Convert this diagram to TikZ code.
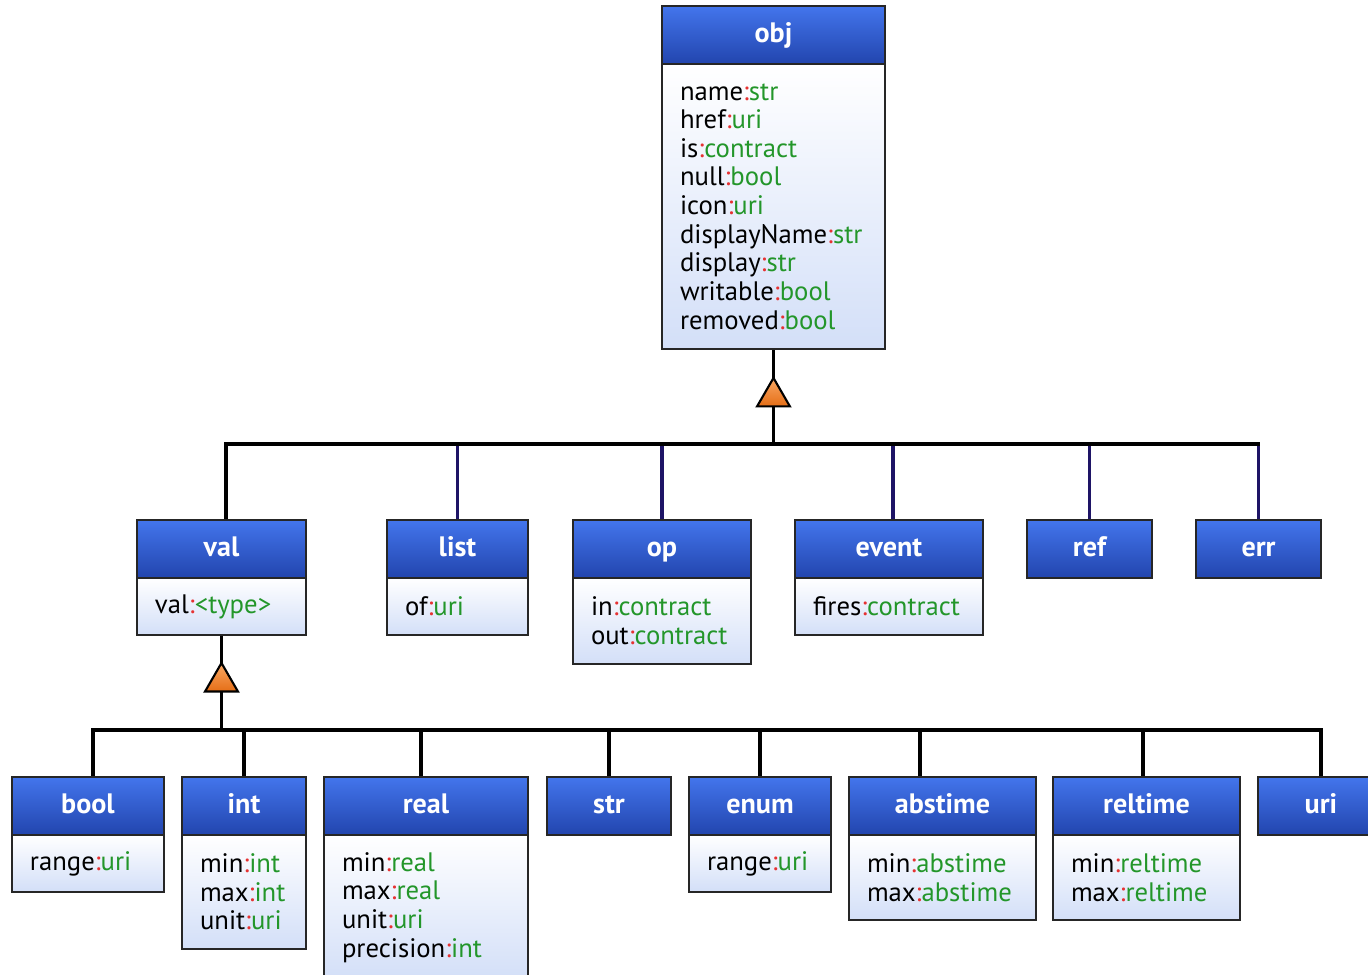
\documentclass[tikz,border=0pt]{standalone}
\usepackage{fontspec}
\setmainfont{PT Sans}
\usetikzlibrary{positioning,shapes.geometric,backgrounds}

\definecolor{headtop}{HTML}{4375EC}
\definecolor{headbot}{HTML}{2245AE}
\definecolor{bodybot}{HTML}{D3DFF8}
\definecolor{boxline}{HTML}{262626}
\definecolor{typegreen}{HTML}{23962A}
\definecolor{colonred}{HTML}{E63232}
\definecolor{navyline}{HTML}{1E1466}
\definecolor{inhtop}{HTML}{F9A864}
\definecolor{inhbot}{HTML}{E56E16}

\newcommand{\attr}[2]{#1\textcolor{colonred}{:}\textcolor{typegreen}{#2}}

\begin{document}
\begin{tikzpicture}[x=0.02cm, y=-0.02cm,
    head/.style = {draw=boxline, line width=1.2pt, top color=headtop, bottom color=headbot, text=white, font=\fontsize{16}{18}\selectfont\bfseries, minimum width=#1, minimum height=1.16cm, text height=11pt, text depth=3pt, inner sep=0pt, outer sep=0pt, anchor=north west},
    body/.style = {draw=boxline, line width=1.2pt, top color=white, bottom color=bodybot, text width=#1, inner xsep=0.36cm, inner ysep=0pt, outer sep=0pt, align=left, font=\fontsize{15.2}{16.3}\selectfont},
    inh/.style = {draw=black, line width=1.2pt, regular polygon, regular polygon sides=3, minimum size=0.76cm, inner sep=0pt, outer sep=0pt, top color=inhtop, bottom color=inhbot},
    wire/.style = {line width=1.9pt, black},
    navywire/.style = {line width=1.9pt, navyline}]
    \useasboundingbox (0,0) rectangle (1368,974);
    \clip (0,0) rectangle (1368,974);

    \node[head=4.46cm] (objh) at (662,6) {obj};
    \node[body=3.74cm, minimum height=5.7cm, below=0pt of objh] (objb) {\attr{name}{str}\\ \attr{href}{uri}\\ \attr{is}{contract}\\ \attr{null}{bool}\\ \attr{icon}{uri}\\ \attr{displayName}{str}\\ \attr{display}{str}\\ \attr{writable}{bool}\\ \attr{removed}{bool}};
    \node[inh, below=0.58cm of objb] (tri1) {};
    \coordinate[below=0.75cm of tri1] (hub1);

    \node[head=3.38cm] (valh) at (137,520) {val};
    \node[body=2.66cm, minimum height=1.14cm, below=0pt of valh] (valb) {\attr{val}{<type>}};
    \node[head=2.82cm] (listh) at (387,520) {list};
    \node[body=2.10cm, minimum height=1.14cm, below=0pt of listh] (listb) {\attr{of}{uri}};
    \node[head=3.56cm] (oph) at (573,520) {op};
    \node[body=2.84cm, minimum height=1.72cm, below=0pt of oph] (opb) {\attr{in}{contract}\\ \attr{out}{contract}};
    \node[head=3.76cm] (eventh) at (795,520) {event};
    \node[body=3.04cm, minimum height=1.14cm, below=0pt of eventh] (eventb) {\attr{fires}{contract}};
    \node[head=2.5cm] (refh) at (1027,520) {ref};
    \node[head=2.5cm] (errh) at (1196,520) {err};
    \node[inh, below=0.56cm of valb] (tri2) {};
    \coordinate[below=0.77cm of tri2] (hub2);

    \node[head=3.04cm] (boolh) at (12,777) {bool};
    \node[body=2.32cm, minimum height=1.14cm, below=0pt of boolh] (boolb) {\attr{range}{uri}};
    \node[head=2.48cm] (inth) at (182,777) {int};
    \node[body=1.76cm, minimum height=2.28cm, below=0pt of inth] (intb) {\attr{min}{int}\\ \attr{max}{int}\\ \attr{unit}{uri}};
    \node[head=4.08cm] (realh) at (324,777) {real};
    \node[body=3.36cm, minimum height=2.9cm, below=0pt of realh] (realb) {\attr{min}{real}\\ \attr{max}{real}\\ \attr{unit}{uri}\\ \attr{precision}{int}};
    \node[head=2.48cm] (strh) at (547,777) {str};
    \node[head=2.84cm] (enumh) at (689,777) {enum};
    \node[body=2.12cm, minimum height=1.14cm, below=0pt of enumh] (enumb) {\attr{range}{uri}};
    \node[head=3.74cm] (abstimeh) at (849,777) {abstime};
    \node[body=3.02cm, minimum height=1.7cm, below=0pt of abstimeh] (abstimeb) {\attr{min}{abstime}\\ \attr{max}{abstime}};
    \node[head=3.74cm] (reltimeh) at (1053,777) {reltime};
    \node[body=3.02cm, minimum height=1.7cm, below=0pt of reltimeh] (reltimeb) {\attr{min}{reltime}\\ \attr{max}{reltime}};
    \node[head=2.52cm] (urih) at (1258,777) {uri};

    \begin{scope}[on background layer]
        \draw[wire] (objb.south) -- (tri1.north);
        \draw[wire] (tri1.south) -- (hub1);
        \draw[navywire] (listh.north) -- (listh.north |- hub1);
        \draw[navywire] (oph.north) -- (oph.north |- hub1);
        \draw[navywire] ([xshift=0.08cm]eventh.north) -- ([xshift=0.08cm]eventh.north |- hub1);
        \draw[navywire] (refh.north) -- (refh.north |- hub1);
        \draw[navywire] (errh.north) -- (errh.north |- hub1);
        \draw[wire, line cap=rect] ([xshift=0.09cm]valh.north) |- (errh.north |- hub1);

        \draw[wire] (valb.south) -- (tri2.north);
        \draw[wire] (tri2.south) -- (hub2);
        \draw[wire] (inth.north) -- (inth.north |- hub2);
        \draw[wire] ([xshift=-0.1cm]realh.north) -- ([xshift=-0.1cm]realh.north |- hub2);
        \draw[wire] (strh.north) -- (strh.north |- hub2);
        \draw[wire] (enumh.north) -- (enumh.north |- hub2);
        \draw[wire] ([xshift=-0.45cm]abstimeh.north) -- ([xshift=-0.45cm]abstimeh.north |- hub2);
        \draw[wire] ([xshift=-0.07cm]reltimeh.north) -- ([xshift=-0.07cm]reltimeh.north |- hub2);
        \draw[wire, line cap=rect] ([xshift=0.1cm]boolh.north) |- (urih.north |- hub2) -- (urih.north);
    \end{scope}
\end{tikzpicture}
\end{document}
